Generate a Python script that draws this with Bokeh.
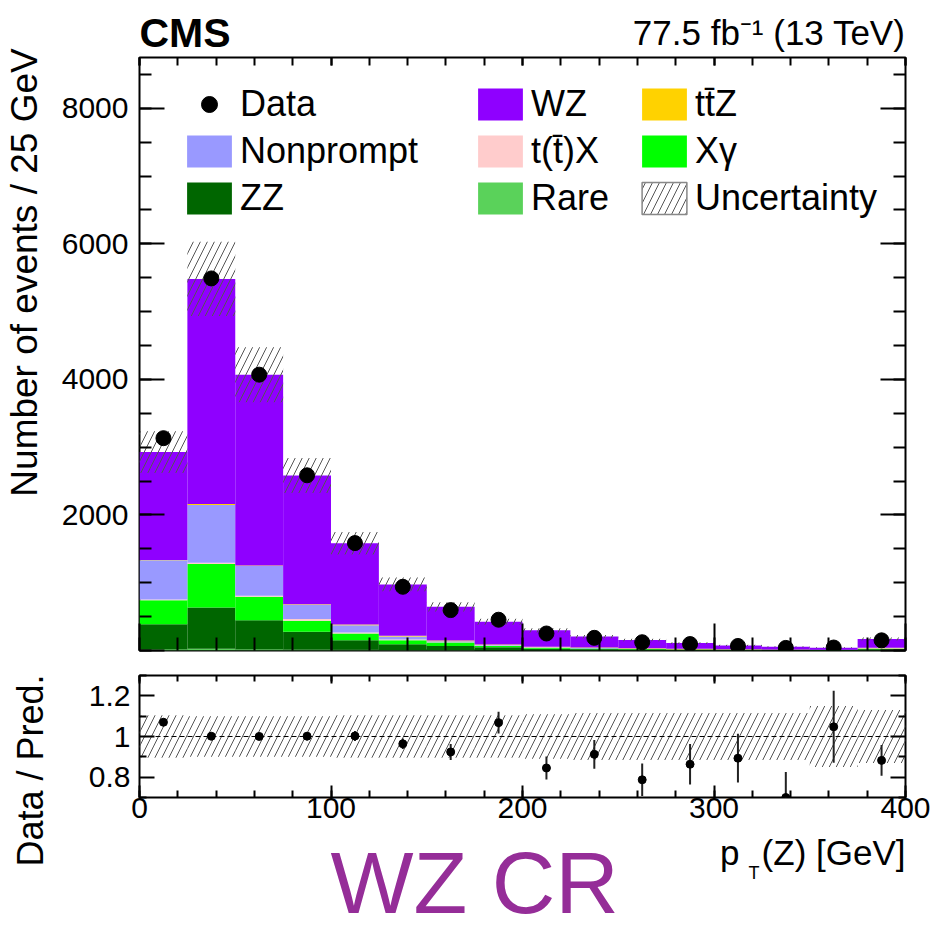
import numpy as np
from bokeh.plotting import figure
from bokeh.layouts import column, row
from bokeh.models import (Range1d, FixedTicker, LinearAxis, Legend, LegendItem,
                          Label, Span, CustomJSTickFormatter)
from bokeh.embed import file_html
from bokeh.resources import INLINE

# ---- binning: pT(Z) in 25 GeV bins ----
bin_edges = [0, 25, 50, 75, 100, 125, 150, 175, 200, 225, 250, 275, 300, 325, 350, 375, 400]

# ---- observed events per bin ----
data = [3133, 5490, 4070, 2585, 1585, 940, 596, 454, 251, 187, 122, 95, 67, 38.5, 44, 150]

# ---- expected yields per process (stacked bottom -> top: rare, zz, xgamma, tx, nonprompt, ttz, wz) ----
rare      = [20, 25, 20, 15, 10, 8, 6, 5, 4, 3, 3, 2, 2, 1, 1, 3]
zz        = [369, 611, 428, 260, 142, 85, 62, 44, 22, 17, 12, 9, 7, 5, 4, 14]
xgamma    = [351, 640, 344, 163, 99, 59, 50, 19, 12, 9, 6, 5, 3, 2, 2, 8]
tx        = [14, 19, 15, 25, 15, 11, 5, 4, 3, 2, 2, 1, 1, 1, 1, 3]
nonprompt = [576, 853, 439, 211, 108, 44, 14, 8, 6, 5, 4, 3, 2, 2, 2, 6]
ttz       = [5, 15, 10, 10, 10, 9, 11, 9, 10, 8, 6, 5, 4, 3, 2, 8]
wz        = [1593, 3320, 2813, 1897, 1197, 759, 497, 336, 240, 161, 122, 85, 56, 41, 30, 128]

# relative total uncertainty on the prediction
unc_rel = [0.105, 0.10, 0.10, 0.10, 0.105, 0.105, 0.105, 0.105, 0.11, 0.115, 0.115, 0.115,
           0.115, 0.115, 0.15, 0.13]

# statistical uncertainty on data / prediction
ratio_err = [0.018, 0.014, 0.016, 0.02, 0.025, 0.026, 0.039, 0.053, 0.057, 0.071, 0.08, 0.1,
             0.12, 0.126, 0.177, 0.076]

FONT = "Liberation Sans"

edges = np.array(bin_edges, dtype=float)
left, right = edges[:-1], edges[1:]
centers = 0.5 * (left + right)

components = [
    ("Rare", rare, "#5ad25a"),
    ("ZZ", zz, "#006600"),
    ("X\u03b3", xgamma, "#00ff00"),
    ("t(t\u0304)X", tx, "#ffcccc"),
    ("Nonprompt", nonprompt, "#9999ff"),
    ("tt\u0304Z", ttz, "#ffd200"),
    ("WZ", wz, "#8f00ff"),
]

total = np.sum([np.array(c[1], dtype=float) for c in components], axis=0)
data_arr = np.array(data, dtype=float)
ratio = data_arr / total
rerr = np.array(ratio_err)
data_err = rerr * total
unc = np.array(unc_rel)

blank = CustomJSTickFormatter(code="return ''")

GUTTER = 58          # width of the strip holding the rotated axis titles
COL_W = 931 - GUTTER
HATCH = dict(hatch_pattern="/", hatch_color="#555555", hatch_weight=1, hatch_scale=14)


def style_axis(ax, major_in, minor_in, show_labels=True):
    ax.axis_line_color = None
    ax.major_tick_in = major_in
    ax.major_tick_out = 0
    ax.minor_tick_in = minor_in
    ax.minor_tick_out = 0
    ax.major_tick_line_color = "black"
    ax.minor_tick_line_color = "black"
    ax.major_tick_line_width = 2
    ax.minor_tick_line_width = 2
    ax.major_label_text_font = FONT
    ax.major_label_text_font_size = "30px"
    ax.major_label_text_color = "black"
    if not show_labels:
        ax.formatter = blank
        ax.major_label_text_font_size = "0px"
        ax.major_label_standoff = 0


def text_strip(width, height, x_range, y_range, left_border=0, right_border=0):
    f = figure(width=width, height=height, x_range=x_range, y_range=y_range,
               output_backend="svg", toolbar_location=None,
               x_axis_type=None, y_axis_type=None,
               min_border_left=left_border, min_border_right=right_border,
               min_border_top=0, min_border_bottom=0)
    f.xgrid.visible = False
    f.ygrid.visible = False
    f.outline_line_color = None
    f.background_fill_color = "white"
    f.border_fill_color = "white"
    return f


x_ticks = [0, 100, 200, 300, 400]
x_minor = list(range(0, 401, 20))
xr = Range1d(0, 400)

# ================= header: experiment and luminosity =================
head = text_strip(COL_W, 55, xr, Range1d(0, 55), 139 - GUTTER, 26)
head.add_layout(Label(x=0, y=23, text="CMS", text_font=FONT, text_font_style="bold",
                      text_font_size="41px", text_baseline="alphabetic", text_color="black"))
head.add_layout(Label(x=400, y=23, text="77.5 fb\u207b\u00b9 (13 TeV)", text_font=FONT,
                      text_font_size="35px", text_align="right", text_baseline="alphabetic",
                      text_color="black"))

# ================= main panel =================
p = figure(width=COL_W, height=607, x_range=xr, y_range=Range1d(0, 8750),
           output_backend="svg", toolbar_location=None,
           min_border_left=139 - GUTTER, min_border_right=26, min_border_top=2,
           min_border_bottom=12)
p.xgrid.visible = False
p.ygrid.visible = False
p.outline_line_color = "black"
p.outline_line_width = 2
p.background_fill_color = "white"
p.border_fill_color = "white"

p.xaxis.ticker = FixedTicker(ticks=x_ticks, minor_ticks=x_minor)
style_axis(p.xaxis[0], 27, 13, show_labels=False)
p.yaxis.ticker = FixedTicker(ticks=[0, 2000, 4000, 6000, 8000],
                             minor_ticks=list(range(0, 8751, 500)))
style_axis(p.yaxis[0], 25, 12)
p.yaxis.formatter = CustomJSTickFormatter(code="return tick == 0 ? '' : tick.toString()")
p.yaxis.major_label_standoff = 11

top_ax = LinearAxis(ticker=FixedTicker(ticks=x_ticks, minor_ticks=x_minor))
style_axis(top_ax, 8, 8, show_labels=False)
p.add_layout(top_ax, "above")
right_ax = LinearAxis(ticker=FixedTicker(ticks=[0, 2000, 4000, 6000, 8000],
                                         minor_ticks=list(range(0, 8751, 500))))
style_axis(right_ax, 25, 12, show_labels=False)
p.add_layout(right_ax, "right")

# stacked expectation
renderers = {}
base = np.zeros(len(centers))
for name, vals, color in components:
    vals = np.array(vals, dtype=float)
    renderers[name] = p.quad(left=left, right=right, bottom=base, top=base + vals,
                             fill_color=color, line_color=None)
    base = base + vals

# uncertainty band on the total prediction
p.quad(left=left, right=right, bottom=total * (1 - unc), top=total * (1 + unc),
       fill_alpha=0, line_color=None, **HATCH)
# legend-only swatch for the band (no drawable entry)
unc_legend = p.quad(left=[np.nan], right=[np.nan], bottom=[np.nan], top=[np.nan],
                    fill_color="white", line_color="#888888", line_width=1.5, **HATCH)

# data
p.segment(x0=centers, x1=centers, y0=data_arr - data_err, y1=data_arr + data_err,
          line_color="black", line_width=2)
r_data = p.scatter(centers, data_arr, size=15, color="black")


def make_legend(items, xloc):
    leg = Legend(items=items, location=(xloc, 431), orientation="vertical",
                 border_line_color=None, background_fill_alpha=0,
                 label_text_font=FONT, label_text_font_size="36px",
                 label_text_color="black",
                 glyph_width=56, glyph_height=40, label_height=40,
                 label_standoff=3, spacing=5, padding=0, margin=0)
    p.add_layout(leg)


make_legend([LegendItem(label="Data", renderers=[r_data]),
             LegendItem(label="Nonprompt", renderers=[renderers["Nonprompt"]]),
             LegendItem(label="ZZ", renderers=[renderers["ZZ"]])], 42)
make_legend([LegendItem(label="WZ", renderers=[renderers["WZ"]]),
             LegendItem(label="t(t\u0304)X", renderers=[renderers["t(t\u0304)X"]]),
             LegendItem(label="Rare", renderers=[renderers["Rare"]])], 333)
make_legend([LegendItem(label="tt\u0304Z", renderers=[renderers["tt\u0304Z"]]),
             LegendItem(label="X\u03b3", renderers=[renderers["X\u03b3"]]),
             LegendItem(label="Uncertainty", renderers=[unc_legend])], 497)

# ================= ratio panel =================
r = figure(width=COL_W, height=170, x_range=xr, y_range=Range1d(0.7, 1.3),
           output_backend="svg", toolbar_location=None,
           min_border_left=139 - GUTTER, min_border_right=26, min_border_top=13,
           min_border_bottom=35)
r.xgrid.visible = False
r.ygrid.visible = False
r.outline_line_color = "black"
r.outline_line_width = 2
r.background_fill_color = "white"
r.border_fill_color = "white"

r.xaxis.ticker = FixedTicker(ticks=x_ticks, minor_ticks=x_minor)
style_axis(r.xaxis[0], 12, 7)
r.xaxis.major_label_standoff = 0
r.yaxis.ticker = FixedTicker(ticks=[0.8, 1.0, 1.2], minor_ticks=[0.7, 0.9, 1.1, 1.3])
style_axis(r.yaxis[0], 15, 7)
r.yaxis.formatter = CustomJSTickFormatter(code="return (Math.round(tick*10)/10).toString()")
r.yaxis.major_label_standoff = 9

rtop = LinearAxis(ticker=FixedTicker(ticks=x_ticks, minor_ticks=x_minor))
style_axis(rtop, 8, 6, show_labels=False)
r.add_layout(rtop, "above")
rright = LinearAxis(ticker=FixedTicker(ticks=[0.8, 1.0, 1.2], minor_ticks=[0.7, 0.9, 1.1, 1.3]))
style_axis(rright, 15, 7, show_labels=False)
r.add_layout(rright, "right")

r.quad(left=left, right=right, bottom=1 - unc, top=1 + unc,
       fill_alpha=0, line_color=None, **HATCH)
r.add_layout(Span(location=1.0, dimension="width", line_color="black",
                  line_dash="5 3", line_width=1.2))
r.segment(x0=centers, x1=centers, y0=ratio - rerr, y1=ratio + rerr,
          line_color="#222222", line_width=2)
r.scatter(centers, ratio, size=8, color="black")

# ================= footer: x-axis title and region tag =================
# footer spans page rows 832..932
foot = text_strip(COL_W, 100, xr, Range1d(0, 100), 139 - GUTTER, 26)
foot.add_layout(Label(x=400, y=80.5, text="(Z) [GeV]", text_font=FONT, text_font_size="35px",
                      text_align="right", text_baseline="alphabetic", text_color="black"))
foot.add_layout(Label(x=400, y=59.5, text="T", text_font=FONT, text_font_size="18px",
                      text_align="right", text_baseline="alphabetic", x_offset=-146,
                      text_color="black"))
foot.add_layout(Label(x=400, y=80.5, text="p", text_font=FONT, text_font_size="35px",
                      text_align="right", text_baseline="alphabetic", x_offset=-166,
                      text_color="black"))
foot.add_layout(Label(x=175, y=0.5, text="WZ CR", text_font=FONT, text_font_size="88px",
                      text_color="#952d98", text_align="center", text_baseline="bottom"))

# ================= left strip: rotated axis titles =================
gut = text_strip(GUTTER, 932, Range1d(0, GUTTER), Range1d(932, 0))
gut.add_layout(Label(x=24, y=272, text="Number of events / 25 GeV", angle=np.pi / 2,
                     text_font=FONT, text_font_size="37px", text_align="center",
                     text_baseline="alphabetic", text_color="black"))
gut.add_layout(Label(x=30, y=770, text="Data / Pred.", angle=np.pi / 2,
                     text_font=FONT, text_font_size="36px", text_align="center",
                     text_baseline="alphabetic", text_color="black"))

layout = row(gut, column(head, p, r, foot))
open("out.html", "w").write(file_html(layout, INLINE))
